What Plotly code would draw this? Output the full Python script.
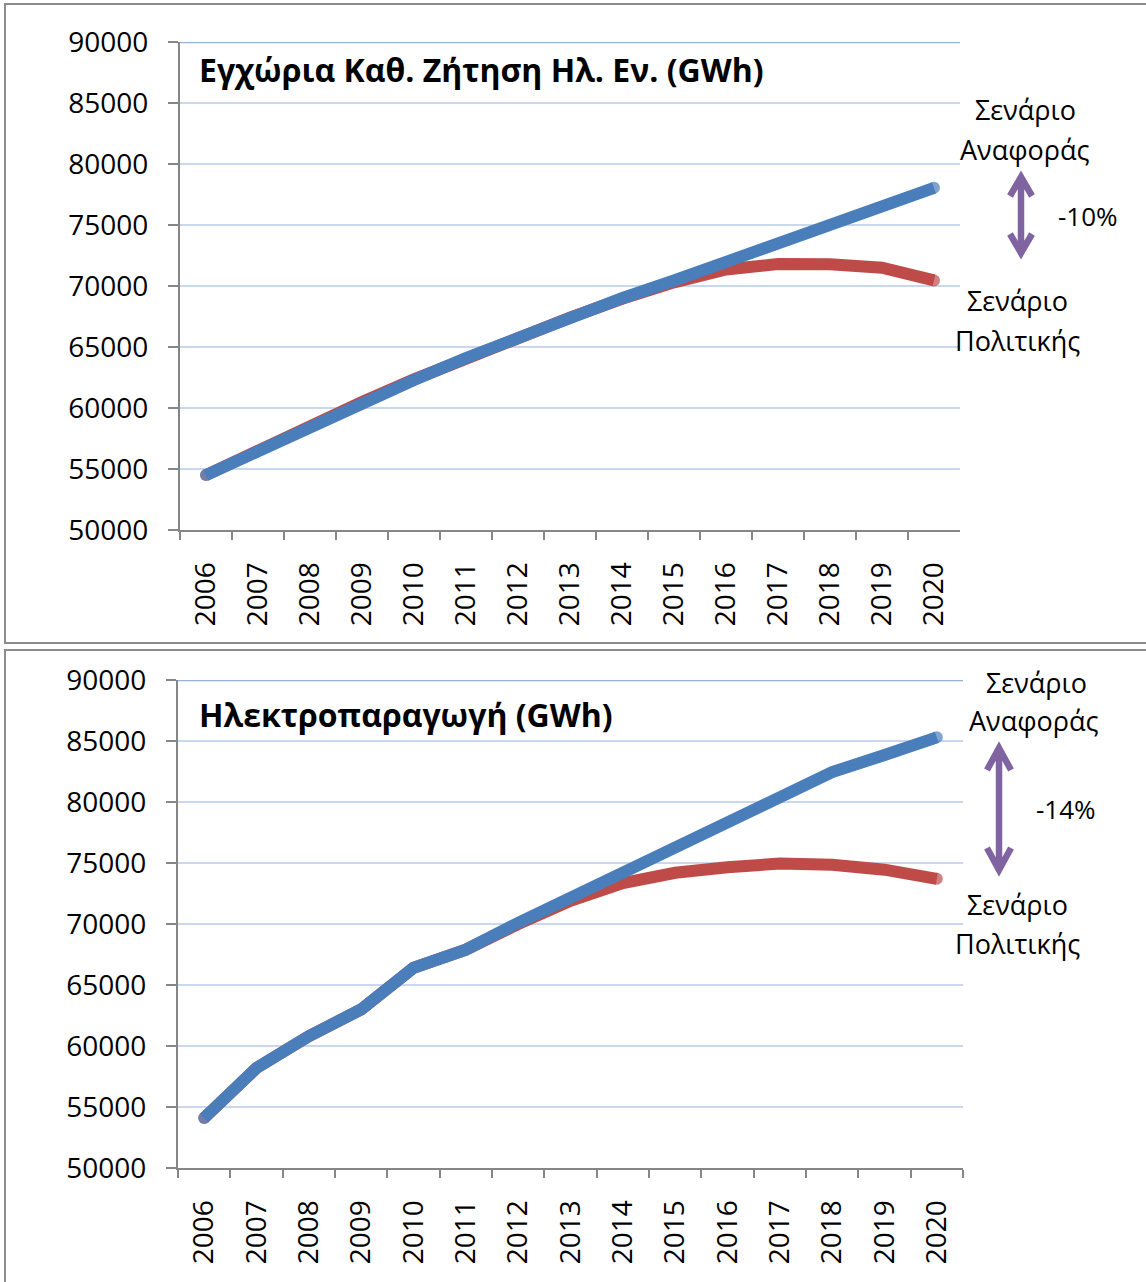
import plotly.graph_objects as go

W, H = 1146, 1282

years = [str(y) for y in range(2006, 2021)]
y_ticks = [50000, 55000, 60000, 65000, 70000, 75000, 80000, 85000, 90000]

# Εγχώρια ζήτηση (GWh)
demand_ref = [54500, 56500, 58450, 60400, 62300, 64100, 65800, 67450,
              69000, 70450, 72000, 73550, 75100, 76600, 78050]
demand_pol = [54500, 56550, 58550, 60500, 62350, 64100, 65750, 67400,
              68950, 70300, 71350, 71800, 71780, 71500, 70460]

# Ηλεκτροπαραγωγή (GWh)
gen_ref = [54100, 58200, 60800, 63000, 66400, 67900, 70100, 72200,
           74250, 76300, 78350, 80400, 82450, 83850, 85300]
gen_pol = [54100, 58200, 60800, 63000, 66400, 67900, 70000, 71900,
           73350, 74200, 74650, 74950, 74850, 74450, 73700]

BLUE = "#4a7ebb"
RED = "#be4b48"
PURPLE = "#8064a2"
GREY = "#868686"
GRID = "#c9d8ee"
FONT = "Open Sans"


def px(x):
    return x / W


def py(y):
    return 1 - y / H


def cap_sizes(n, s=12):
    return [s] + [0] * (n - 2) + [s]


fig = go.Figure()

for xa, ya, pol, ref in [("x", "y", demand_pol, demand_ref), ("x2", "y2", gen_pol, gen_ref)]:
    for vals, col in [(pol, RED), (ref, BLUE)]:
        fig.add_trace(go.Scatter(
            x=years, y=vals, xaxis=xa, yaxis=ya, mode="lines+markers",
            line=dict(color=col, width=12),
            marker=dict(color=col, size=cap_sizes(len(vals)), line=dict(width=0)),
            showlegend=False, hoverinfo="skip"))

xcommon = dict(type="category", range=[-0.5, 14.5], tickson="boundaries",
               ticks="outside", ticklen=8, tickwidth=1.5, tickcolor=GREY,
               showline=True, linecolor=GREY, linewidth=2, showgrid=False,
               tickangle=-90, tickfont=dict(family=FONT, size=28, color="black"),
               ticklabelstandoff=19, automargin=False)
ycommon = dict(range=[50000, 90000], tickvals=y_ticks, ticktext=[str(v) for v in y_ticks],
               ticks="outside", ticklen=10, tickwidth=1.5, tickcolor=GREY,
               showline=True, linecolor=GREY, linewidth=2, zeroline=False,
               gridcolor=GRID, gridwidth=2,
               tickfont=dict(family=FONT, size=28, color="black"),
               ticklabelstandoff=14, automargin=False)

fig.update_layout(
    width=W, height=H, margin=dict(l=0, r=0, t=0, b=0, pad=0), autosize=False,
    paper_bgcolor="white", plot_bgcolor="white",
    xaxis=dict(xcommon, domain=[px(180), px(960)], anchor="y"),
    yaxis=dict(ycommon, domain=[py(530), py(42)], anchor="x"),
    xaxis2=dict(xcommon, domain=[px(178), px(963)], anchor="y2"),
    yaxis2=dict(ycommon, domain=[py(1168), py(680)], anchor="x2"),
)

shapes = []
# panel borders
shapes.append(dict(type="rect", xref="paper", yref="paper", x0=px(5), x1=px(1160),
                   y0=py(643), y1=py(4), line=dict(color="#8c8c8c", width=2)))
shapes.append(dict(type="rect", xref="paper", yref="paper", x0=px(5), x1=px(1160),
                   y0=py(1300), y1=py(650), line=dict(color="#8c8c8c", width=2)))
# darker top gridline
for xd, yr in [("x domain", "y"), ("x2 domain", "y2")]:
    shapes.append(dict(type="line", xref=xd, yref=yr, x0=0, x1=1, y0=90000, y1=90000,
                       line=dict(color="#95b3d7", width=2.5)))


def arrow(x, ytop, ybot, arm_x=12, arm_y=22):
    d = (f"M {px(x)} {py(ytop + 3)} L {px(x)} {py(ybot - 3)} "
         f"M {px(x - arm_x)} {py(ytop + arm_y)} L {px(x)} {py(ytop)} L {px(x + arm_x)} {py(ytop + arm_y)} "
         f"M {px(x - arm_x)} {py(ybot - arm_y)} L {px(x)} {py(ybot)} L {px(x + arm_x)} {py(ybot - arm_y)}")
    return dict(type="path", xref="paper", yref="paper", path=d,
                line=dict(color=PURPLE, width=6.5))


shapes.append(arrow(1021, 177, 253, arm_x=11, arm_y=19))
shapes.append(arrow(999, 748, 870))
fig.update_layout(shapes=shapes)

ann = []


def text(x, y, s, size=27, bold=False, anchor="center"):
    ann.append(dict(xref="paper", yref="paper", x=px(x), y=py(y), text=f"<b>{s}</b>" if bold else s,
                    showarrow=False, xanchor=anchor, yanchor="middle",
                    font=dict(family=FONT, size=size, color="black")))


text(197, 69, "Εγχώρια Καθ. Ζήτηση Ηλ. Εν. (GWh)", size=32, bold=True, anchor="left")
text(1025, 110, "Σενάριο")
text(1025, 150, "Αναφοράς")
text(1088, 216, "-10%", size=26)
text(1017, 300, "Σενάριο")
text(1017, 340, "Πολιτικής")

text(197, 714, "Ηλεκτροπαραγωγή (GWh)", size=32, bold=True, anchor="left")
text(1036, 682, "Σενάριο")
text(1034, 721, "Αναφοράς")
text(1066, 809, "-14%", size=26)
text(1017, 904, "Σενάριο")
text(1017, 943, "Πολιτικής")

fig.update_layout(annotations=ann)

# page has a default 8px body margin; drop it so the figure sits at the corner
fig.write_html("out.html", config={"displayModeBar": False},
               post_script="document.body.style.margin = '0';")
